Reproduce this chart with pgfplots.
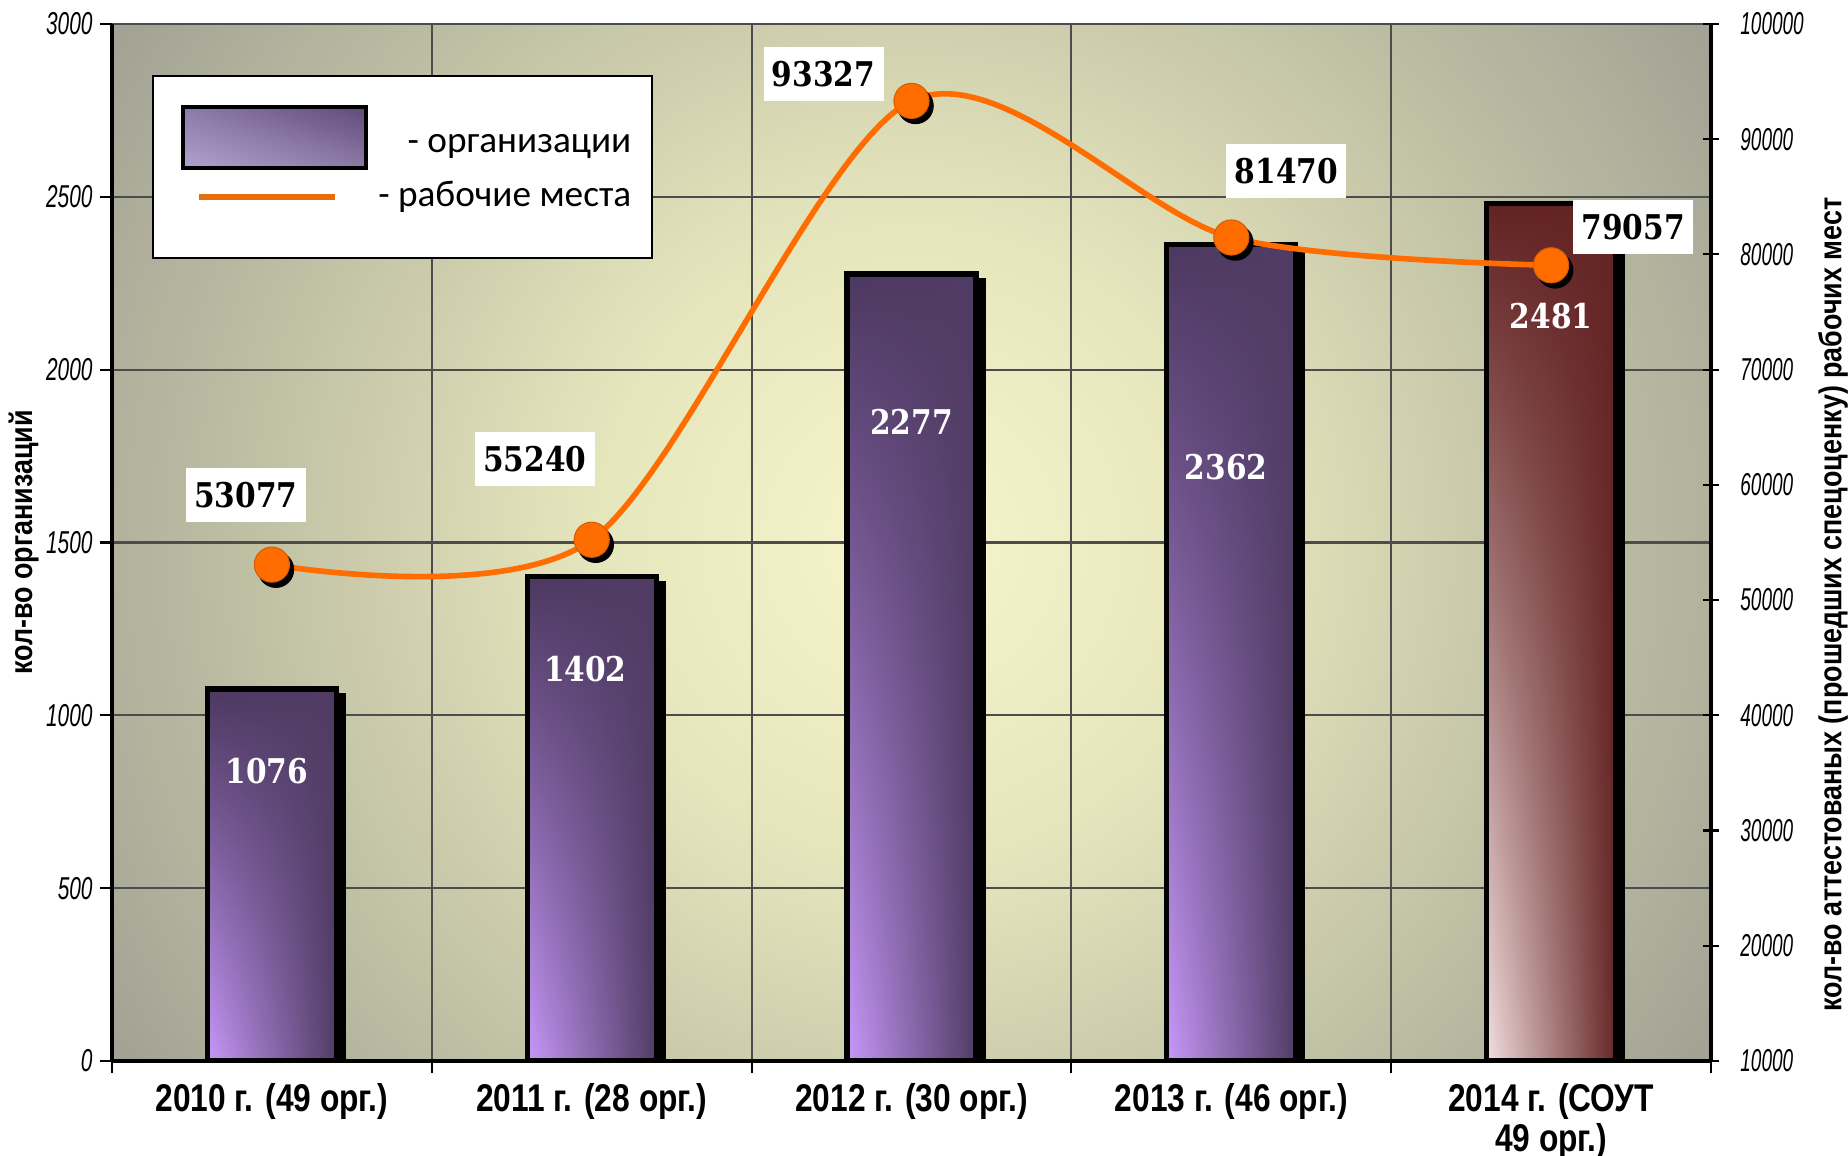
\documentclass[border=0pt]{standalone}
\usepackage{pgfplots}
\pgfplotsset{compat=1.18}
\usepackage{fontspec}
\setmainfont{Liberation Sans}
\newfontfamily\numfont{DejaVu Serif}
\newfontfamily\legfont{Carlito}
\usetikzlibrary{shadings}
\definecolor{lineor}{RGB}{255,108,0}
\definecolor{legor}{RGB}{230,110,12}
\definecolor{pLL}{RGB}{200,152,250}
\definecolor{pLR}{RGB}{80,60,100}
\definecolor{pUL}{RGB}{76,56,96}
\definecolor{pUR}{RGB}{80,60,100}
\definecolor{mLL}{RGB}{242,222,222}
\definecolor{mLR}{RGB}{102,38,38}
\definecolor{mUL}{RGB}{98,34,34}
\definecolor{mUR}{RGB}{100,36,36}
\definecolor{sUL}{RGB}{140,122,170}
\definecolor{sUR}{RGB}{96,74,122}
\definecolor{sLL}{RGB}{178,162,204}
\definecolor{sLR}{RGB}{140,122,166}
\pgfdeclareradialshading{bgshade}{\pgfpoint{0bp}{0bp}}{%
 rgb(0bp)=(0.97,0.96,0.80);
 rgb(10bp)=(0.90,0.90,0.74);
 rgb(20bp)=(0.76,0.76,0.65);
 rgb(30bp)=(0.63,0.63,0.58);
 rgb(40bp)=(0.53,0.53,0.51);
 rgb(48bp)=(0.50,0.50,0.50);
 rgb(80bp)=(0.50,0.50,0.50)}
\newcommand{\tl}[1]{\scalebox{0.66}[1]{\fontsize{9}{10}\selectfont\itshape #1}}
\newcommand{\tr}[1]{\scalebox{0.6}[1]{\fontsize{9}{10}\selectfont\itshape #1}}
\newcommand{\xl}[1]{\scalebox{0.82}[1]{\fontsize{11}{11}\selectfont\bfseries\begin{tabular}{@{}c@{}}#1\end{tabular}}}
\newcommand{\dl}[1]{\scalebox{0.87}[1]{\fontsize{9.7}{11}\selectfont\numfont\bfseries #1}}
\newcommand{\al}[1]{\scalebox{0.85}[1]{\fontsize{9}{10}\selectfont\bfseries #1}}
\begin{document}
\begin{tikzpicture}
\useasboundingbox (-1.12,-0.94) rectangle (17.36,10.61);
\begin{scope}
\clip (0,0) rectangle (15.99,10.37);
\shade[shading=bgshade] (-0.005,-2.815) rectangle (15.995,13.185);
\end{scope}
\begin{axis}[
  at={(0,0)}, anchor=south west,
  scale only axis, width=15.99cm, height=10.37cm,
  xmin=-0.5, xmax=4.5, ymin=0, ymax=3000,
  axis y line*=left, axis x line*=bottom,
  axis line style={black, line width=1pt},
  xtick={-0.5,0.5,1.5,2.5,3.5,4.5},
  xticklabels={,,,,,},
  extra x ticks={0,1,2,3,4},
  extra x tick labels={\xl{2010 г. (49 орг.)},\xl{2011 г. (28 орг.)},\xl{2012 г. (30 орг.)},\xl{2013 г. (46 орг.)},\xl{2014 г. (СОУТ\\49 орг.)}},
  extra x tick style={major tick length=0pt, grid=none},
  x tick label style={anchor=north, yshift=-0.1cm},
  ytick={0,500,...,3000},
  yticklabels={\tl{0},\tl{500},\tl{1000},\tl{1500},\tl{2000},\tl{2500},\tl{3000}},
  y tick label style={xshift=0.05cm},
  tick align=outside,
  major tick length=0.12cm,
  tick style={black, line width=0.6pt},
  grid=major,
  grid style={black!70, line width=0.6pt},
  ylabel={\al{кол-во организаций}},
  ylabel style={at={(rel axis cs:-0.0553,0.5)}, anchor=center},
  every axis plot/.append style={ybar, bar width=1.29cm, bar shift=0pt, draw=black, line width=1.5pt},
]
\addplot[fill=black, xshift=0.07cm, yshift=-0.07cm] coordinates {(0,1076)(1,1402)(2,2277)(3,2362)(4,2481)};
\addplot[lower left=pLL, lower right=pLR, upper left=pUL, upper right=pUR] coordinates {(0,1076)};
\addplot[lower left=pLL, lower right=pLR, upper left=pUL, upper right=pUR] coordinates {(1,1402)};
\addplot[lower left=pLL, lower right=pLR, upper left=pUL, upper right=pUR] coordinates {(2,2277)};
\addplot[lower left=pLL, lower right=pLR, upper left=pUL, upper right=pUR] coordinates {(3,2362)};
\addplot[lower left=mLL, lower right=mLR, upper left=mUL, upper right=mUR] coordinates {(4,2481)};
\node[text=white] at (axis cs:-0.016,839) {\dl{1076}};
\node[text=white] at (axis cs:0.98,1134) {\dl{1402}};
\node[text=white] at (axis cs:2,1849) {\dl{2277}};
\node[text=white] at (axis cs:2.984,1718) {\dl{2362}};
\node[text=white] at (axis cs:4,2155) {\dl{2481}};
\end{axis}
\begin{axis}[
  at={(0,0)}, anchor=south west,
  scale only axis, width=15.99cm, height=10.37cm,
  xmin=-0.5, xmax=4.5, ymin=10000, ymax=100000,
  axis y line*=right, axis x line=none,
  axis line style={black, line width=1.2pt},
  ytick={10000,20000,...,100000},
  yticklabels={\tr{10000},\tr{20000},\tr{30000},\tr{40000},\tr{50000},\tr{60000},\tr{70000},\tr{80000},\tr{90000},\tr{100000}},
  y tick label style={xshift=0.09cm},
  tick align=center,
  major tick length=0.16cm,
  tick style={black, line width=0.6pt},
  ylabel={\al{кол-во аттестованых (прошедших спецоценку) рабочих мест}},
  ylabel style={at={(rel axis cs:1.0763,0.44)}, anchor=center},
]
\addplot[lineor, line width=1.6pt, smooth, no markers] coordinates {(0,53077)(1,55240)(2,93327)(3,81470)(4,79057)};
\addplot[only marks, mark=*, mark size=5pt, black, xshift=0.04cm, yshift=-0.05cm] coordinates {(0,53077)(1,55240)(2,93327)(3,81470)(4,79057)};
\addplot[only marks, mark=*, mark size=5pt, mark options={fill=lineor, draw=lineor!85!black, line width=0.3pt}] coordinates {(0,53077)(1,55240)(2,93327)(3,81470)(4,79057)};
\tikzset{lbl/.style={fill=white, inner sep=0pt, minimum width=1.2cm, minimum height=0.54cm}}
\node[lbl, xshift=-0.26cm, yshift=0.70cm] at (axis cs:0,53077) {\dl{53077}};
\node[lbl, xshift=-0.57cm, yshift=0.81cm] at (axis cs:1,55240) {\dl{55240}};
\node[lbl, xshift=-0.88cm, yshift=0.27cm] at (axis cs:2,93327) {\dl{93327}};
\node[lbl, xshift=0.55cm, yshift=0.66cm] at (axis cs:3,81470) {\dl{81470}};
\node[lbl, xshift=0.82cm, yshift=0.38cm] at (axis cs:4,79057) {\dl{79057}};
\end{axis}
% legend
\draw[black, line width=0.8pt, fill=white] (0.41,8.03) rectangle (5.40,9.85);
\shade[upper left=sUL, upper right=sUR, lower left=sLL, lower right=sLR] (0.71,8.93) rectangle (2.54,9.54);
\draw[line width=1.2pt] (0.71,8.93) rectangle (2.54,9.54);
\draw[legor, line width=1.6pt] (0.87,8.64) -- (2.23,8.64);
\node[anchor=base east, inner sep=0pt] at (5.20,9.08) {\legfont\fontsize{10.6}{13}\selectfont - организации};
\node[anchor=base east, inner sep=0pt] at (5.20,8.54) {\legfont\fontsize{10.6}{13}\selectfont - рабочие места};
\end{tikzpicture}
\end{document}
